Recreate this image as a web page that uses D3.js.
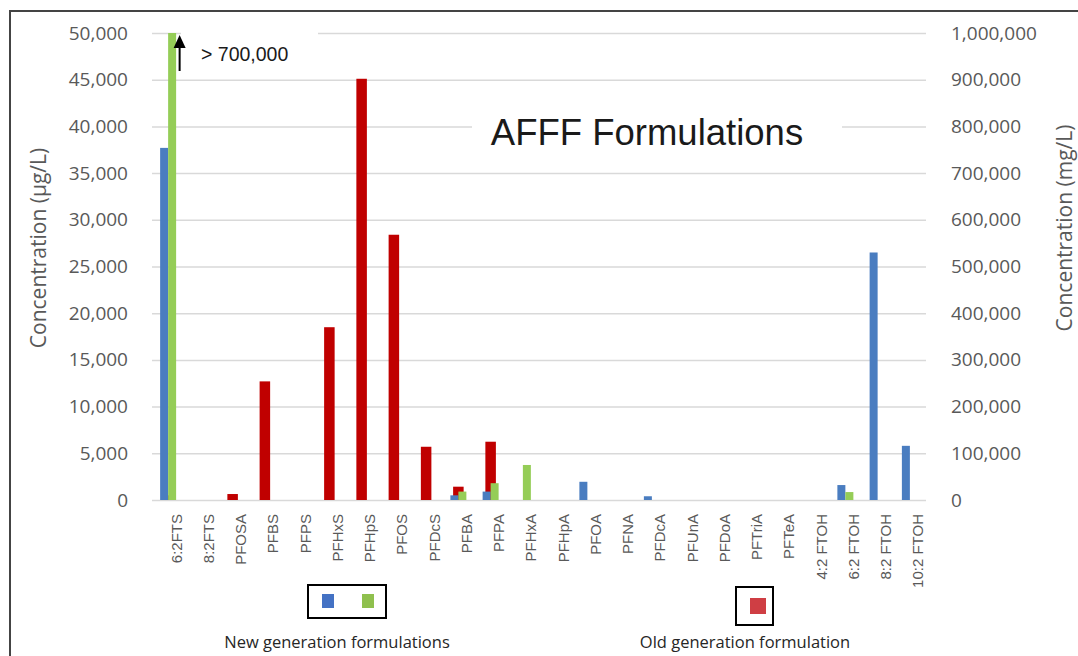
<!DOCTYPE html>
<html>
<head>
<meta charset="utf-8">
<script src="https://cdn.jsdelivr.net/npm/d3@7"></script>
<style>
  html, body { margin: 0; padding: 0; background: #fff; }
  svg { display: block; }
</style>
</head>
<body>
<svg id="chart" width="1078" height="656"></svg>
<script>
// PFAS analytes measured in the AFFF formulations
const categories = ["6:2FTS", "8:2FTS", "PFOSA", "PFBS", "PFPS", "PFHxS", "PFHpS", "PFOS",
  "PFDcS", "PFBA", "PFPA", "PFHxA", "PFHpA", "PFOA", "PFNA", "PFDcA", "PFUnA", "PFDoA",
  "PFTriA", "PFTeA", "4:2 FTOH", "6:2 FTOH", "8:2 FTOH", "10:2 FTOH"];

// New generation formulations (left axis, µg/L)
const newGenBlue  = [37700, 0, 0, 0, 0, 0, 0, 0, 0, 500, 900, 0, 0, 1950, 0, 400, 0, 0, 0, 0, 0, 1600, 26500, 5800];
const newGenGreen = [700000, 0, 0, 0, 0, 0, 0, 0, 0, 900, 1800, 3750, 0, 0, 0, 0, 0, 0, 0, 0, 0, 850, 0, 0];

// Old generation formulation (right axis, mg/L)
const oldGenRed = [10000, 0, 12800, 254000, 0, 370000, 902000, 568000, 114000, 28500, 124800, 0, 0, 0, 0, 0, 0, 0, 0, 0, 0, 0, 0, 0];

const leftTicks  = [0, 5000, 10000, 15000, 20000, 25000, 30000, 35000, 40000, 45000, 50000];
const rightTicks = [0, 100000, 200000, 300000, 400000, 500000, 600000, 700000, 800000, 900000, 1000000];

const svg = d3.select("#chart");
const plot = { left: 152, right: 926, top: 33, bottom: 500 };

const fmt = d3.format(",");
const yLeft = d3.scaleLinear().domain([0, 50000]).range([plot.bottom, plot.top]);
const yRight = d3.scaleLinear().domain([0, 1000000]).range([plot.bottom, plot.top]);

// category bands: clustered pair for the new formulations, single centred bar for the old one
const x0 = d3.scaleBand().domain(categories).range([plot.left, plot.right]).paddingInner(0.504).paddingOuter(0.252);
const x1 = d3.scaleBand().domain(["blue", "green"]).range([0, x0.bandwidth()]);
const xRed = d3.scaleBand().domain(categories).range([plot.left, plot.right]).paddingInner(0.674).paddingOuter(0.337);

const colors = { blue: "#4a7dc0", green: "#95cd57", red: "#c00000" };

svg.append("rect").attr("width", 1078).attr("height", 656).attr("fill", "#fff");

// gridlines
svg.append("g").selectAll("line").data(leftTicks).join("line")
  .attr("x1", plot.left).attr("x2", plot.right)
  .attr("y1", d => yLeft(d) + 0.5).attr("y2", d => yLeft(d) + 0.5)
  .attr("stroke", "#d9d9d9").attr("stroke-width", 1.5);

// chart title with its own white background
svg.append("rect").attr("x", 472).attr("y", 100).attr("width", 370).attr("height", 64).attr("fill", "#fff");
svg.append("text").attr("x", 647).attr("y", 145).attr("text-anchor", "middle")
  .attr("font-family", "Liberation Sans, Arial, sans-serif").attr("font-size", 36.5)
  .attr("fill", "#1a1a1a").text("AFFF Formulations");

// annotation background on the top gridline
svg.append("rect").attr("x", 181).attr("y", 24).attr("width", 137).attr("height", 46).attr("fill", "#fff");

// bars
const rows = categories.map((c, i) => ({ c, blue: newGenBlue[i], green: newGenGreen[i], red: oldGenRed[i] }));

svg.append("g").selectAll("rect").data(rows.filter(d => d.red > 0)).join("rect")
  .attr("x", d => xRed(d.c)).attr("width", xRed.bandwidth())
  .attr("y", d => yRight(d.red)).attr("height", d => plot.bottom - yRight(d.red))
  .attr("fill", colors.red);

["blue", "green"].forEach(key => {
  svg.append("g").selectAll("rect").data(rows.filter(d => d[key] > 0)).join("rect")
    .attr("x", d => x0(d.c) + x1(key)).attr("width", x1.bandwidth())
    .attr("y", d => yLeft(Math.min(d[key], 50000)))
    .attr("height", d => plot.bottom - yLeft(Math.min(d[key], 50000)))
    .attr("fill", colors[key]);
});

// off-scale marker for the 6:2FTS new formulation value
const arrowX = x0(categories[0]) + x0.bandwidth() + 3.5;
svg.append("line").attr("x1", arrowX).attr("x2", arrowX).attr("y1", 71).attr("y2", 44)
  .attr("stroke", "#000").attr("stroke-width", 2);
svg.append("path").attr("d", `M${arrowX},35 L${arrowX - 6},48 L${arrowX + 6},48 Z`).attr("fill", "#000");
svg.append("text").attr("x", 201).attr("y", 61)
  .attr("font-family", "Liberation Sans, Arial, sans-serif").attr("font-size", 19.5)
  .attr("fill", "#1a1a1a").text("> " + fmt(newGenGreen[0]));

// axes
const tickFont = "'Open Sans', sans-serif";
const leftAxis = svg.append("g").attr("transform", "translate(128,0)")
  .call(d3.axisLeft(yLeft).tickValues(leftTicks).tickFormat(fmt).tickSize(0).tickPadding(0));
const rightAxis = svg.append("g").attr("transform", "translate(951,0)")
  .call(d3.axisRight(yRight).tickValues(rightTicks).tickFormat(fmt).tickSize(0).tickPadding(0));
[leftAxis, rightAxis].forEach(g => {
  g.select(".domain").remove();
  g.selectAll("text").attr("font-family", tickFont).attr("font-size", 19).attr("fill", "#595959");
});

const xAxis = svg.append("g").attr("transform", `translate(0,${plot.bottom})`)
  .call(d3.axisBottom(x0).tickSize(0).tickPadding(0));
xAxis.select(".domain").remove();
xAxis.selectAll("text")
  .attr("font-family", "Liberation Sans, Arial, sans-serif").attr("font-size", 15).attr("fill", "#595959")
  .attr("text-anchor", "end").attr("transform", `translate(${x0.bandwidth() / 2},0) rotate(-90)`)
  .attr("x", -14).attr("y", 0).attr("dy", "0.36em");

// axis titles
svg.append("text").attr("transform", "translate(46,248) rotate(-90)").attr("text-anchor", "middle")
  .attr("font-family", tickFont).attr("font-size", 21).attr("fill", "#595959").text("Concentration (µg/L)");
svg.append("text").attr("transform", "translate(1072,228) rotate(-90)").attr("text-anchor", "middle")
  .attr("font-family", tickFont).attr("font-size", 21).attr("fill", "#595959").text("Concentration (mg/L)");

// legend
const legendFont = "'Open Sans', sans-serif";
svg.append("rect").attr("x", 308).attr("y", 585).attr("width", 78).attr("height", 33)
  .attr("fill", "none").attr("stroke", "#000").attr("stroke-width", 2);
svg.append("rect").attr("x", 322).attr("y", 594).attr("width", 12).attr("height", 14).attr("fill", "#4472c4");
svg.append("rect").attr("x", 362).attr("y", 594).attr("width", 12).attr("height", 14).attr("fill", "#8fc04e");
svg.append("text").attr("x", 337).attr("y", 648).attr("text-anchor", "middle")
  .attr("font-family", legendFont).attr("font-size", 16.5).attr("fill", "#262626").text("New generation formulations");

svg.append("rect").attr("x", 736).attr("y", 587).attr("width", 37).attr("height", 38)
  .attr("fill", "none").attr("stroke", "#000").attr("stroke-width", 2);
svg.append("rect").attr("x", 750).attr("y", 598).attr("width", 16).attr("height", 16).attr("fill", "#cf3e44");
svg.append("text").attr("x", 745).attr("y", 648).attr("text-anchor", "middle")
  .attr("font-family", legendFont).attr("font-size", 16.5).attr("fill", "#262626").text("Old generation formulation");

// outer frame
svg.append("path").attr("d", "M10,656 V11 H1078").attr("fill", "none")
  .attr("stroke", "#444").attr("stroke-width", 2);
</script>
</body>
</html>
